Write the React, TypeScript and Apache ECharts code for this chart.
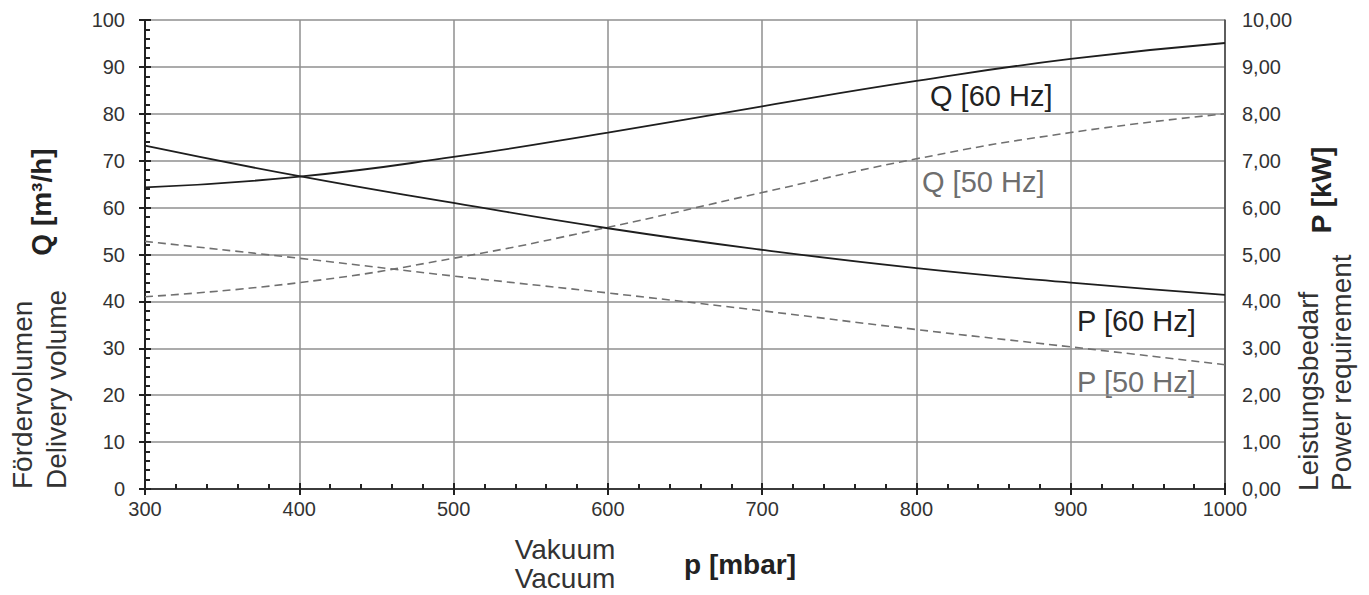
import React, { useEffect, useRef } from "react";
import * as echarts from "echarts";

const pressure = [300, 400, 500, 600, 700, 800, 900, 1000];
const q60 = [64.3, 66.6, 70.8, 76.0, 81.6, 87.0, 91.7, 95.1];
const q50 = [41.0, 44.0, 49.2, 55.8, 63.2, 70.4, 76.0, 80.0];
const p60 = [7.32, 6.67, 6.1, 5.56, 5.1, 4.71, 4.4, 4.14];
const p50 = [5.28, 4.92, 4.54, 4.18, 3.8, 3.4, 3.03, 2.65];

const FONT = "Liberation Sans, Arial, sans-serif";

export default function App() {
  const ref = useRef<HTMLDivElement>(null);
  useEffect(() => {
    const chart = echarts.init(ref.current!, null, { renderer: "svg" });
    const pair = (ys: number[]) => pressure.map((x, i) => [x, ys[i]]);
    const grid = { left: 145, right: 144, top: 20, bottom: 106 };
    const labelStyle = { color: "#333", fontSize: 20, fontFamily: FONT };
    const big = `28px ${FONT}`;
    const bigBold = `bold 28px ${FONT}`;
    chart.setOption({
      animation: false,
      backgroundColor: "#fff",
      grid,
      xAxis: [
        {
          type: "value", min: 300, max: 1000, interval: 100,
          axisLine: { show: true, onZero: false, lineStyle: { color: "#222", width: 2 } },
          axisTick: { show: true, length: 6, lineStyle: { color: "#222", width: 2 } },
          minorTick: { show: false },
          axisLabel: { ...labelStyle, margin: 10, formatter: (v: number) => String(v) },
          splitLine: { show: true, lineStyle: { color: "#8f8f8f", width: 1.5 } },
        },
        {
          type: "value", min: 300, max: 1000, interval: 100, position: "bottom",
          axisLine: { show: false },
          axisTick: { show: true, inside: true, length: 6, lineStyle: { color: "#222", width: 2 } },
          minorTick: { show: true, splitNumber: 5, length: 5, lineStyle: { color: "#222", width: 2 } },
          axisLabel: { show: false },
          splitLine: { show: false },
        },
        {
          type: "value", min: 300, max: 1000, interval: 100, position: "top",
          axisLine: { show: true, lineStyle: { color: "#444", width: 1.5 } },
          axisTick: { show: false }, axisLabel: { show: false }, splitLine: { show: false },
        },
      ],
      yAxis: [
        {
          type: "value", min: 0, max: 100, interval: 10, position: "left",
          axisLine: { show: true, onZero: false, lineStyle: { color: "#222", width: 2 } },
          axisTick: { show: true, length: 6, lineStyle: { color: "#222", width: 2 } },
          axisLabel: { ...labelStyle, margin: 20 },
          splitLine: { show: true, lineStyle: { color: "#8f8f8f", width: 1.5 } },
        },
        {
          type: "value", min: 0, max: 10, interval: 1, position: "right",
          axisLine: { show: true, onZero: false, lineStyle: { color: "#444", width: 1.5 } },
          axisTick: { show: false },
          axisLabel: { ...labelStyle, margin: 17, formatter: (v: number) => v.toFixed(2).replace(".", ",") },
          splitLine: { show: false },
        },
        {
          type: "value", min: 0, max: 100, interval: 10, position: "left",
          axisLine: { show: false },
          axisTick: { show: true, inside: true, length: 6, lineStyle: { color: "#222", width: 2 } },
          minorTick: { show: true, splitNumber: 5, length: 5, lineStyle: { color: "#222", width: 2 } },
          axisLabel: { show: false },
          splitLine: { show: false },
        },
      ],
      series: [
        { name: "Q60", type: "line", smooth: true, showSymbol: false, yAxisIndex: 0, data: pair(q60), lineStyle: { color: "#1e1e1e", width: 1.8 } },
        { name: "Q50", type: "line", smooth: true, showSymbol: false, yAxisIndex: 0, data: pair(q50), lineStyle: { color: "#707070", width: 1.6, type: [8, 5] } },
        { name: "P60", type: "line", smooth: true, showSymbol: false, yAxisIndex: 1, data: pair(p60), lineStyle: { color: "#1e1e1e", width: 1.8 } },
        { name: "P50", type: "line", smooth: true, showSymbol: false, yAxisIndex: 1, data: pair(p50), lineStyle: { color: "#707070", width: 1.6, type: [8, 5] } },
      ],
      graphic: [
        { type: "text", x: 930, y: 96, style: { text: "Q [60 Hz]", fill: "#222", font: `29px ${FONT}`, align: "left", verticalAlign: "middle" } },
        { type: "text", x: 922, y: 182, style: { text: "Q [50 Hz]", fill: "#6e6e6e", font: `29px ${FONT}`, align: "left", verticalAlign: "middle" } },
        { type: "text", x: 1077, y: 321, style: { text: "P [60 Hz]", fill: "#222", font: `29px ${FONT}`, align: "left", verticalAlign: "middle" } },
        { type: "text", x: 1077, y: 382, style: { text: "P [50 Hz]", fill: "#6e6e6e", font: `29px ${FONT}`, align: "left", verticalAlign: "middle" } },
        { type: "text", x: 22, y: 489, rotation: Math.PI / 2, style: { text: "Fördervolumen", fill: "#333", font: big, align: "left", verticalAlign: "middle" } },
        { type: "text", x: 56, y: 489, rotation: Math.PI / 2, style: { text: "Delivery volume", fill: "#333", font: big, align: "left", verticalAlign: "middle" } },
        { type: "text", x: 41, y: 202, rotation: Math.PI / 2, style: { text: "Q [m³/h]", fill: "#222", font: bigBold, align: "center", verticalAlign: "middle" } },
        { type: "text", x: 1308, y: 491, rotation: Math.PI / 2, style: { text: "Leistungsbedarf", fill: "#333", font: big, align: "left", verticalAlign: "middle" } },
        { type: "text", x: 1341, y: 491, rotation: Math.PI / 2, style: { text: "Power requirement", fill: "#333", font: big, align: "left", verticalAlign: "middle" } },
        { type: "text", x: 1321, y: 190, rotation: Math.PI / 2, style: { text: "P [kW]", fill: "#222", font: bigBold, align: "center", verticalAlign: "middle" } },
        { type: "text", x: 565, y: 549, style: { text: "Vakuum", fill: "#333", font: big, align: "center", verticalAlign: "middle" } },
        { type: "text", x: 565, y: 578, style: { text: "Vacuum", fill: "#333", font: big, align: "center", verticalAlign: "middle" } },
        { type: "text", x: 740, y: 564, style: { text: "p [mbar]", fill: "#222", font: bigBold, align: "center", verticalAlign: "middle" } },
      ],
    });
    return () => chart.dispose();
  }, []);
  return <div ref={ref} style={{ width: 1369, height: 595, position: "absolute", left: 0, top: 0 }} />;
}
